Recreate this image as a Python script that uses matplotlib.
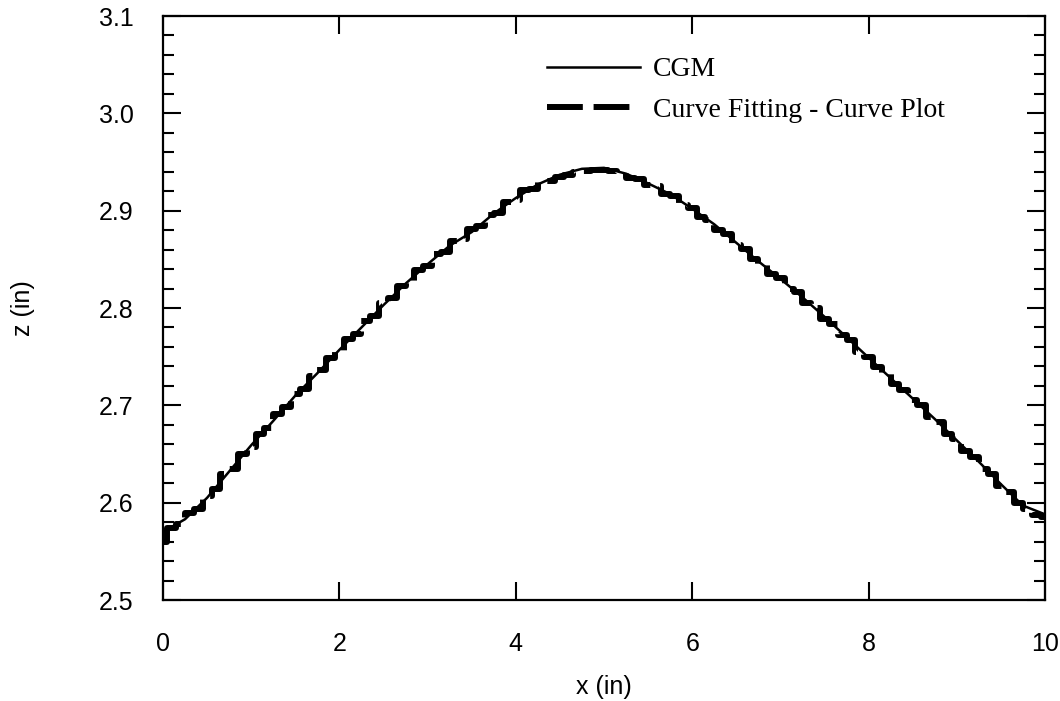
import matplotlib.pyplot as plt
from matplotlib.ticker import MultipleLocator

# CGM surface profile
cgm_x = [0.0, 0.25, 0.5, 0.75, 1.0, 1.25, 1.5, 1.75, 2.0, 2.25, 2.5, 2.75, 3.0, 3.25,
         3.5, 3.75, 4.0, 4.25, 4.5, 4.75, 5.0, 5.25, 5.5, 5.75, 6.0, 6.25, 6.5, 6.75,
         7.0, 7.25, 7.5, 7.75, 8.0, 8.25, 8.5, 8.75, 9.0, 9.25, 9.5, 9.75, 10.0]
cgm_z = [2.570, 2.583, 2.605, 2.632, 2.659, 2.684, 2.710, 2.733, 2.757, 2.780, 2.803,
         2.825, 2.845, 2.864, 2.878, 2.897, 2.913, 2.927, 2.937, 2.943, 2.944, 2.938,
         2.928, 2.917, 2.902, 2.886, 2.867, 2.848, 2.830, 2.811, 2.791, 2.770, 2.749,
         2.728, 2.707, 2.686, 2.664, 2.642, 2.619, 2.597, 2.588]

# curve fitting - curve plot (stair-stepped, every 0.1 in)
fit_x = [i / 10 for i in range(101)]
fit_z = [2.560, 2.574, 2.578, 2.589, 2.594, 2.607, 2.614, 2.629, 2.635, 2.650,
         2.657, 2.671, 2.677, 2.691, 2.698, 2.712, 2.717, 2.730, 2.736, 2.749,
         2.755, 2.768, 2.773, 2.787, 2.792, 2.805, 2.810, 2.823, 2.827, 2.839,
         2.843, 2.855, 2.858, 2.869, 2.871, 2.881, 2.884, 2.896, 2.898, 2.909,
         2.911, 2.921, 2.922, 2.930, 2.930, 2.935, 2.937, 2.940, 2.941, 2.942,
         2.942, 2.941, 2.940, 2.934, 2.933, 2.926, 2.925, 2.917, 2.915, 2.906,
         2.903, 2.894, 2.890, 2.880, 2.876, 2.865, 2.861, 2.850, 2.845, 2.835,
         2.831, 2.820, 2.816, 2.805, 2.800, 2.789, 2.784, 2.772, 2.767, 2.755,
         2.750, 2.739, 2.733, 2.722, 2.716, 2.705, 2.700, 2.688, 2.683, 2.671,
         2.665, 2.653, 2.647, 2.635, 2.629, 2.617, 2.611, 2.600, 2.594, 2.587,
         2.585]

fig = plt.figure(figsize=(10.6, 7.01), dpi=100)
ax = fig.add_axes([163 / 1060, 1 - 600 / 701, 882 / 1060, 584 / 701])

ax.plot(cgm_x, cgm_z, color='black', lw=1.8, label='CGM')
ax.plot(fit_x, fit_z, color='black', lw=4.3, drawstyle='steps-mid',
        dashes=(6, 1.8), label='Curve Fitting - Curve Plot')

ax.set_xlim(0, 10)
ax.set_ylim(2.5, 3.1)
ax.xaxis.set_major_locator(MultipleLocator(2))
ax.yaxis.set_major_locator(MultipleLocator(0.1))
ax.yaxis.set_minor_locator(MultipleLocator(0.02))
ax.yaxis.set_major_formatter(plt.FormatStrFormatter('%.1f'))
ax.xaxis.set_major_formatter(plt.FormatStrFormatter('%d'))

for s in ax.spines.values():
    s.set_linewidth(1.6)

tickfont = {'family': 'Liberation Sans', 'size': 18}
ax.tick_params(which='both', direction='in', top=True, right=True, width=1.5)
ax.tick_params(which='major', length=13)
ax.tick_params(which='minor', length=8)
ax.tick_params(axis='both', pad=21, labelsize=18)
ax.tick_params(axis='x', pad=23)
for lab in ax.get_xticklabels() + ax.get_yticklabels():
    lab.set_family('Liberation Sans')

ax.set_xlabel('x (in)', fontdict=tickfont, labelpad=14)
ax.set_ylabel('z (in)', fontdict=tickfont, labelpad=46)

ax.legend(loc='upper left', bbox_to_anchor=(0.4354, 0.93), frameon=False,
          prop={'family': 'Liberation Serif', 'size': 20}, handlelength=3.35,
          borderpad=0, borderaxespad=0, labelspacing=0.55, handletextpad=0.47)

fig.savefig('out.png', dpi=100)
